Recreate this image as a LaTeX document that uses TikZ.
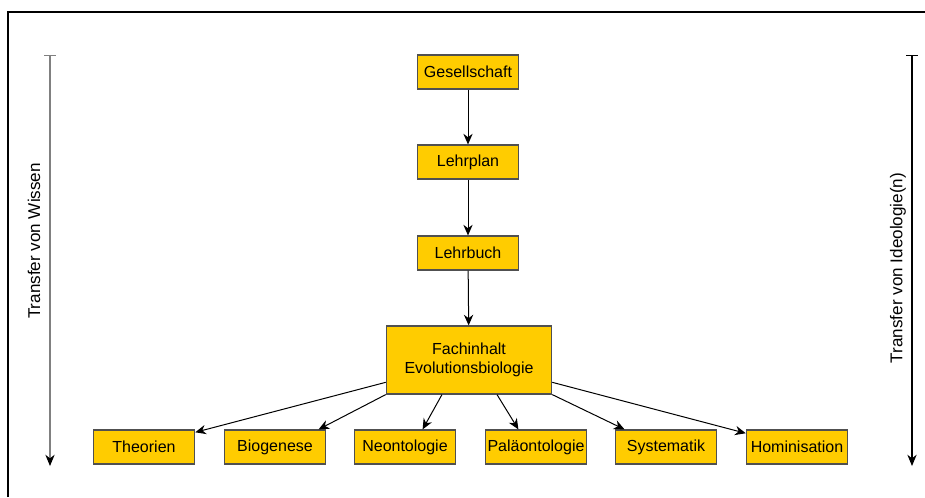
\documentclass[tikz,border=0pt]{standalone}
\usepackage{fontspec}
\setmainfont{Liberation Sans}
\usetikzlibrary{arrows.meta}
\definecolor{boxyellow}{HTML}{FFCC00}
\definecolor{boxline}{HTML}{505050}
\tikzset{
	box/.style={draw=boxline, line width=0.9pt, fill=boxyellow, inner sep=0pt,
		minimum width=76pt, minimum height=25.5pt, font=\fontsize{12}{14}\selectfont, align=center},
	flow/.style={line width=0.75pt, -{Stealth[length=8pt,width=7pt]}},
	side/.style={line width=0.8pt, {Bar[width=9pt]}-{Stealth[length=8.5pt,width=7pt,color=black]}},
	sidetext/.style={rotate=90, font=\fontsize{12.8}{15}\selectfont}
}
\begin{document}
\begin{tikzpicture}[x=0.75pt, y=-0.75pt]
	\useasboundingbox (0,0) rectangle (925,497);
	% frame
	\draw[line width=1.5pt] (8,497) -- (8,12) -- (925,12);
	
	% main chain
	\node[box] (ges) at (468,72) {Gesellschaft};
	\node[box] (plan) at (468,162) {Lehrplan};
	\node[box] (buch) at (468,253) {Lehrbuch};
	\node[box, minimum width=124pt, minimum height=51pt] (fach) at (469,360) {Fachinhalt\\Evolutionsbiologie};
	
	% subfields
	\node[box] (theo) at (144,447) {Theorien};
	\node[box] (bio) at (275,447) {Biogenese};
	\node[box] (neo) at (405,447) {Neontologie};
	\node[box] (pal) at (536,447) {Paläontologie};
	\node[box] (sys) at (666,447) {Systematik};
	\node[box] (hom) at (797,447) {Hominisation};
	
	\draw[flow] (ges) -- (plan);
	\draw[flow] (plan) -- (buch);
	\draw[flow] (buch) -- (fach);
	
	\draw[flow] (fach.195) -- (theo.16);
	\draw[flow] (fach.south west) -- (bio.22);
	\draw[flow] (fach.232) -- (neo.45);
	\draw[flow] (fach.309) -- (pal.135);
	\draw[flow] (fach.south east) -- (sys.157);
	\draw[flow] (fach.345) -- (hom.165);
	
	% transfer arrows
	\coordinate (wtop) at (50,55);
	\coordinate (wbot) at (50,466);
	\coordinate (itop) at (912,55);
	\coordinate (ibot) at (912,466);
	\draw[side, draw=gray] (wtop) -- (wbot);
	\draw[side] (itop) -- (ibot);
	\node[sidetext] (wissen) at (34,241) {Transfer von Wissen};
	\node[sidetext] (ideo) at (898,268) {Transfer von Ideologie(n)};
\end{tikzpicture}
\end{document}
